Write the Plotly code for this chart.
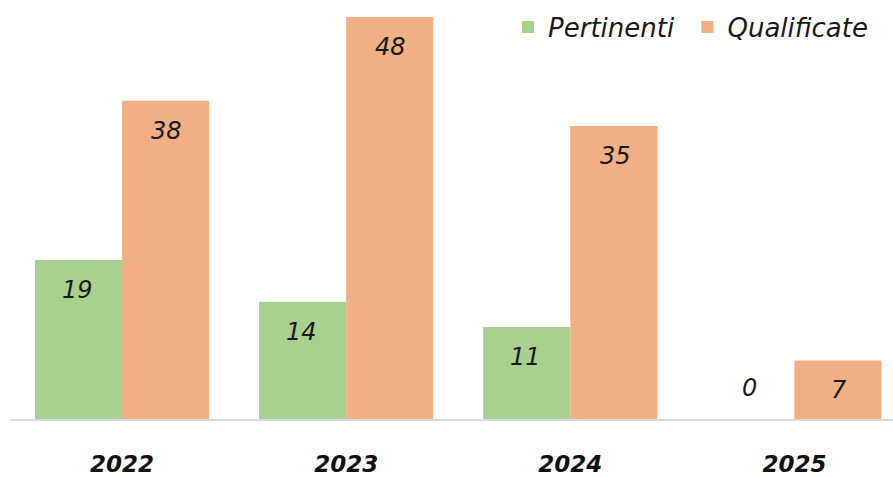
import plotly.graph_objects as go

years = ["2022", "2023", "2024", "2025"]
pertinenti = [19, 14, 11, 0]
qualificate = [38, 48, 35, 7]

green = "#A9D18E"
orange = "#F0AF84"
font_family = "DejaVu Sans, Verdana, sans-serif"

fig = go.Figure()
fig.add_trace(go.Bar(name="<i>Pertinenti\u00a0</i>", x=years, y=pertinenti, marker_color=green,
                     marker_line_width=0))
fig.add_trace(go.Bar(name="<i>Qualificate</i>", x=years, y=qualificate, marker_color=orange,
                     marker_line_width=0))

# value labels inside bars near the top
for i, (p, q) in enumerate(zip(pertinenti, qualificate)):
    for val, off in ((p, -0.2), (q, 0.2)):
        fig.add_annotation(x=i + off, y=val, text=f"<i>{val}</i>", showarrow=False,
                           xref="x", yref="y", yshift=(-30 if val > 0 else 31),
                           font=dict(family=font_family, size=24, color="#1a1a1a"))

fig.update_layout(
    width=893, height=477,
    margin=dict(l=10, r=0, t=10, b=52),
    plot_bgcolor="white", paper_bgcolor="white",
    barmode="group", bargap=0.223, bargroupgap=0,
    showlegend=True,
    legend=dict(orientation="h", x=0.564, y=0.958, xanchor="left", yanchor="middle",
                font=dict(family=font_family, size=26, color="#1a1a1a"),
                itemwidth=30, traceorder="normal", bgcolor="rgba(0,0,0,0)"),
    font=dict(family=font_family),
)
fig.update_xaxes(range=[-0.5, 3.44], showline=True, linecolor="#D9D9D9", linewidth=2,
                 ticks="", showgrid=False,
                 tickfont=dict(family=font_family, size=23, color="#111111", weight="bold", style="italic"),
                 ticklabelstandoff=23)
fig.update_yaxes(range=[0, 48.85], showticklabels=False, showgrid=False, zeroline=False,
                 showline=False)

fig.write_html("out.html", config={"displayModeBar": False},
               post_script="document.body.style.margin='0';document.body.style.overflow='hidden';")
